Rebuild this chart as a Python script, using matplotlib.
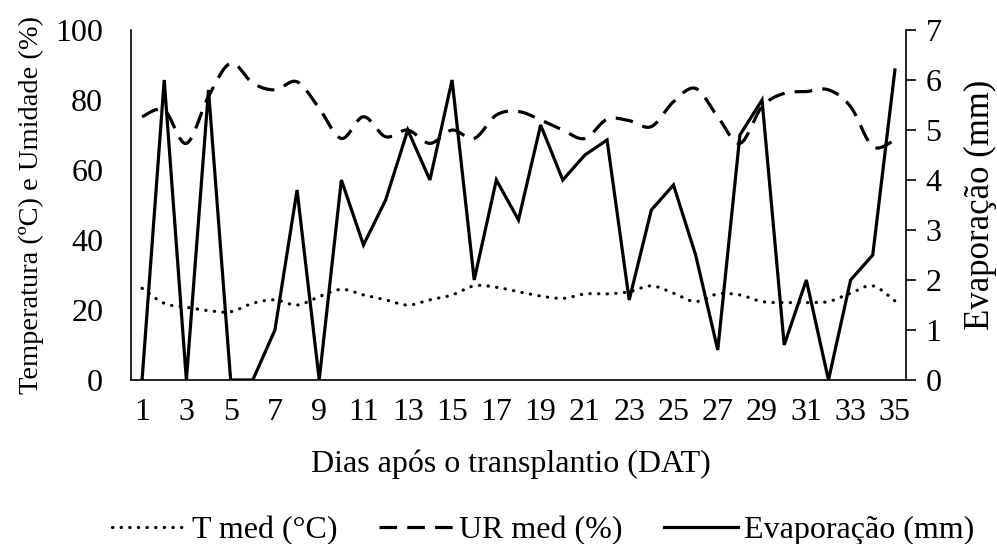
import numpy as np
import matplotlib.pyplot as plt

plt.rcParams['font.family'] = ['Liberation Serif', 'DejaVu Serif']

# Days after transplanting
dias = np.arange(1, 36)

# Daily mean temperature (°C)
t_med = [26.2, 21.9, 20.8, 19.8, 19.5, 21.9, 22.9, 21.4, 23.8, 25.9,
         24.3, 22.9, 21.4, 22.9, 24.3, 26.9, 26.5, 25.2, 24.0, 23.3,
         24.6, 24.6, 25.2, 26.9, 24.8, 22.4, 24.6, 24.3, 22.4, 22.1,
         22.1, 22.4, 24.8, 26.9, 22.6]

# Daily mean relative humidity (%)
ur_med = [75.2, 77.1, 67.6, 81.0, 90.5, 84.8, 82.9, 85.2, 77.6, 69.0,
          75.2, 69.5, 71.4, 67.6, 71.4, 69.0, 75.7, 76.7, 74.3, 71.4,
          69.0, 74.5, 74.1, 72.4, 79.5, 83.3, 75.2, 67.6, 78.1, 81.9,
          82.4, 82.9, 78.1, 66.7, 68.6]

# Daily evaporation (mm)
evap = [0.0, 6.0, 0.0, 5.8, 0.0, 0.0, 1.0, 3.8, 0.0, 4.0,
        2.7, 3.6, 5.0, 4.0, 6.0, 2.0, 4.0, 3.2, 5.1, 4.0,
        4.5, 4.8, 1.6, 3.4, 3.9, 2.5, 0.6, 4.9, 5.6, 0.7,
        2.0, 0.0, 2.0, 2.5, 6.2]

x_ticks = np.arange(1, 36, 2)
y_left_ticks = np.arange(0, 101, 20)
y_right_ticks = np.arange(0, 8, 1)


def smooth(x, y, n=20):
    # Catmull-Rom curve through the points (spreadsheet-style smoothed line)
    x = np.asarray(x, float)
    y = np.asarray(y, float)
    px = np.concatenate([[x[0]], x, [x[-1]]])
    py = np.concatenate([[y[0]], y, [y[-1]]])
    t = np.linspace(0, 1, n, endpoint=False)
    xs, ys = [], []
    for i in range(1, len(px) - 2):
        for p, out in ((px, xs), (py, ys)):
            p0, p1, p2, p3 = p[i - 1], p[i], p[i + 1], p[i + 2]
            out.extend(0.5 * (2 * p1 + (-p0 + p2) * t
                              + (2 * p0 - 5 * p1 + 4 * p2 - p3) * t ** 2
                              + (-p0 + 3 * p1 - 3 * p2 + p3) * t ** 3))
    xs.append(x[-1])
    ys.append(y[-1])
    return np.array(xs), np.array(ys)


fig = plt.figure(figsize=(9.97, 5.44), dpi=100)
ax = fig.add_axes([0.1314, 0.3015, 0.7773, 0.6434])
ax2 = ax.twinx()

fs = 23
lw = 2.3

sx, sy = smooth(dias, t_med)
l1, = ax.plot(sx, sy, color='black', lw=lw, linestyle=(0, (0.1, 2.6)),
              dash_capstyle='round', label='T med (°C)')
sx, sy = smooth(dias, ur_med)
l2, = ax.plot(sx, sy, color='black', lw=lw, linestyle=(0, (5.5, 3.2)),
              dash_capstyle='butt', label='UR med (%)')
l3, = ax2.plot(dias, evap, color='black', lw=lw, solid_joinstyle='miter',
               label='Evaporação (mm)')

ax.set_xlim(0.5, 35.5)
ax.set_ylim(0, 100)
ax2.set_ylim(0, 7)
ax.set_xticks(x_ticks)
ax.set_yticks(y_left_ticks)
ax2.set_yticks(y_right_ticks)

for a in (ax, ax2):
    a.spines['top'].set_visible(False)
    for s in a.spines.values():
        s.set_linewidth(1.2)
ax.spines['right'].set_visible(False)
ax2.spines['left'].set_visible(False)
ax2.spines['bottom'].set_visible(False)

ax.tick_params(axis='both', length=0, labelsize=fs, pad=13)
ax.tick_params(axis='y', pad=20)
ax2.tick_params(axis='y', length=7, width=1.2, direction='out',
                labelsize=fs, pad=7)

ax.set_xlabel('Dias após o transplantio (DAT)', fontsize=fs, labelpad=14)
ax.xaxis.set_label_coords(0.49, -0.2)
ax.set_ylabel('Temperatura (ºC) e Umidade (%)', fontsize=20.5, labelpad=0)
ax.yaxis.set_label_coords(-0.112, 0.5)
ax2.set_ylabel('Evaporação (mm)', fontsize=fs + 2, labelpad=16)

fig.legend(handles=[l1, l2, l3], loc='lower center', ncol=3, frameon=False,
           fontsize=fs, bbox_to_anchor=(0.545, -0.055), handlelength=2.3,
           handletextpad=0.2, columnspacing=1.3)

fig.savefig('out.png', dpi=100)
